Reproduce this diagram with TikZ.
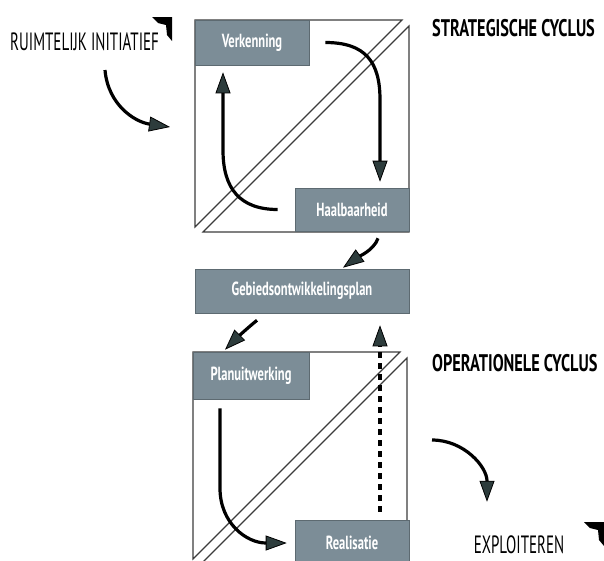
\documentclass[tikz,border=0pt]{standalone}
\usepackage{fontspec}
\newfontfamily\dinfont[FakeStretch=0.6]{PT Sans}
\newfontfamily\dinbold[FakeStretch=0.68]{PT Sans}
\newfontfamily\dinlabel[FakeStretch=0.66]{PT Sans}
\usetikzlibrary{arrows.meta}
\definecolor{boxgray}{RGB}{124,141,151}
\definecolor{tipgray}{RGB}{45,60,60}
\definecolor{edgegray}{RGB}{60,60,60}
\tikzset{
  fase/.style={fill=boxgray, draw=boxgray!75!black, line width=0.6pt, text=white,
    font=\dinlabel\bfseries\fontsize{19}{19}\selectfont, inner sep=0pt},
  cyclus/.style={font=\dinbold\bfseries\fontsize{24}{24}\selectfont, anchor=west, inner sep=0pt},
  stap/.style={font=\dinfont\fontsize{25}{25}\selectfont, inner sep=0pt},
  pijl/.style={line width=3.2pt, -{Triangle[length=21pt,width=15pt,fill=tipgray,line width=0.8pt]}},
  vlak/.style={draw=edgegray, line width=1.2pt, fill=white},
}
\begin{document}
\begin{tikzpicture}[x=1pt,y=-1pt]
\useasboundingbox (0,0) rectangle (604,560);
\clip (0,0) rectangle (604,560);

\foreach \dx/\dy in {0/0,-2/332}{
  \begin{scope}[shift={(\dx,\dy)}]
    \draw[vlak] (195,20) -- (402,20) -- (195,227) -- cycle;
    \draw[vlak] (409,26) -- (409,232) -- (203,232) -- cycle;
  \end{scope}
}
\foreach \dx/\dy in {0/0,432/505}{
  \fill[shift={(\dx,\dy)}] (152,17) -- (172,17) -- (172,41) -- (167,35) -- (166,25) -- (158,23) -- cycle;
}

\node[fase, minimum width=114pt, minimum height=45pt] (verk) at (252,42.5) {Verkenning};
\node[fase, minimum width=114pt, minimum height=43pt] (haal) at (352,209.5) {Haalbaarheid};
\node[fase, minimum width=214pt, minimum height=44pt] (gebied) at (302,291) {Gebiedsontwikkelingsplan};
\node[fase, minimum width=116pt, minimum height=47pt] (plan) at (251,375.5) {Planuitwerking};
\node[fase, minimum width=114pt, minimum height=46pt] (real) at (352,543) {Realisatie};

\node[stap, anchor=west] (ruim) at (10,42) {RUIMTELIJK INITIATIEF};
\node[cyclus] (strat) at (432,28) {STRATEGISCHE CYCLUS};
\node[cyclus] (oper) at (432,363) {OPERATIONELE CYCLUS};
\node[stap] (explo) at (519,545) {EXPLOITEREN};

\coordinate (ri) at (105,70);
\coordinate (rie) at (170,127);
\coordinate (ex) at (432,440);

\draw[pijl] (ri) .. controls +(3,35) and +(-35,-5) .. (rie);
\draw[pijl] ([xshift=16pt]verk.east) .. controls +(40,0) and +(0,-38) .. ([xshift=28pt,yshift=88pt]haal.north) -- ([xshift=28pt,yshift=6pt]haal.north);
\draw[pijl] ([xshift=-17pt]haal.west) .. controls +(-38,0) and +(0,38) .. ([xshift=-29pt,yshift=-85pt]verk.south) -- ([xshift=-29pt,yshift=-7pt]verk.south);
\draw[pijl] ([xshift=26pt,yshift=-7pt]haal.south) .. controls +(-4,12) and +(14,-10) .. ([xshift=41pt,yshift=1pt]gebied.north);
\draw[pijl] ([xshift=-45pt,yshift=-7pt]gebied.south) .. controls +(-10,8) and +(10,-10) .. ([xshift=-26pt,yshift=2pt]plan.north);
\draw[pijl, line width=4.5pt, dash pattern=on 6pt off 5pt] ([xshift=28pt,yshift=8pt]real.north) -- ([xshift=78pt,yshift=-12pt]gebied.south);
\draw[pijl] ([xshift=-31pt,yshift=-9pt]plan.south) -- ++(0,80) .. controls +(0,35) and +(-40,0) .. ([xshift=-8pt]real.west);
\draw[pijl] (ex) .. controls +(32,0) and +(0,-35) .. ([xshift=-32pt,yshift=34pt]explo.north);
\end{tikzpicture}
\end{document}
